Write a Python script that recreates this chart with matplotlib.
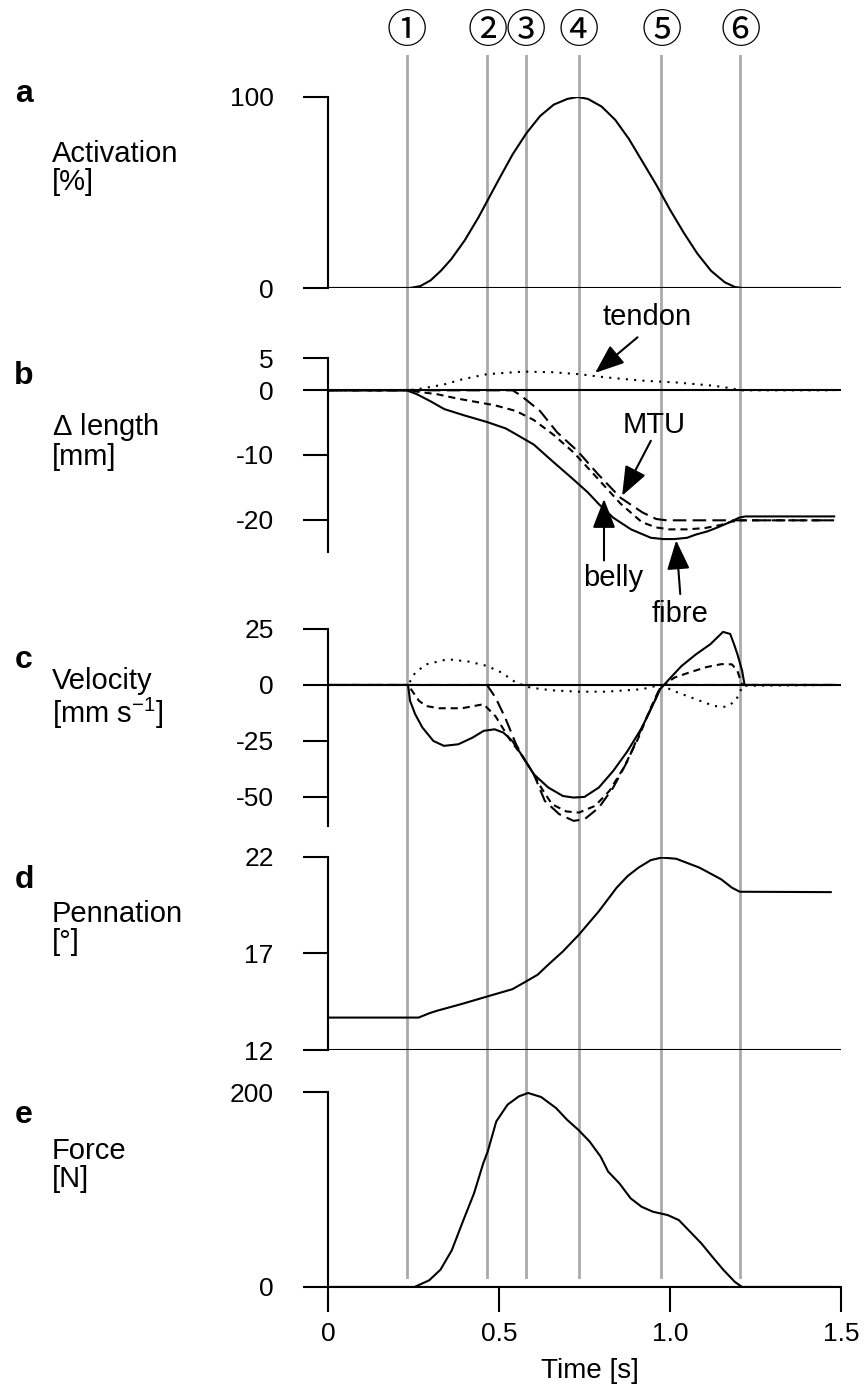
import numpy as np
import matplotlib
matplotlib.use("Agg")
import matplotlib.pyplot as plt
from matplotlib.transforms import blended_transform_factory

plt.rcParams['font.family'] = ['Liberation Sans', 'DejaVu Sans']
plt.rcParams['mathtext.default'] = 'regular'

# event times (s) marked with circled numbers
events = [0.231, 0.466, 0.579, 0.733, 0.975, 1.206]
event_labels = ['①', '②', '③', '④', '⑤', '⑥']

# a: activation [%]
t_act = [0, 0.24, 0.27, 0.30, 0.33, 0.36, 0.40, 0.44, 0.47, 0.50, 0.54, 0.58, 0.62, 0.66,
         0.70, 0.73, 0.76, 0.80, 0.84, 0.88, 0.92, 0.96, 1.00, 1.04, 1.08, 1.12, 1.16, 1.19,
         1.21, 1.48]
act = [0, 0, 1, 4, 9, 15, 25, 37, 47, 57, 70, 81, 90, 96, 99, 100, 99, 95, 88, 78, 66, 54,
       41, 29, 18, 9, 3, 0.5, 0, 0]

# b: length change [mm]
t_fib = [0, 0.23, 0.26, 0.30, 0.34, 0.40, 0.465, 0.52, 0.55, 0.602, 0.655, 0.718, 0.76, 0.792,
         0.834, 0.886, 0.944, 0.98, 1.013, 1.05, 1.076, 1.11, 1.139, 1.17, 1.202, 1.22, 1.48]
len_fib = [0, 0, -0.6, -1.7, -2.9, -3.9, -4.9, -5.9, -6.8, -8.4, -10.9, -13.8, -15.8, -17.6,
           -19.7, -21.5, -22.8, -23.0, -23.0, -22.8, -22.3, -21.8, -21.2, -20.5, -19.7, -19.5, -19.5]
t_bel = [0, 0.23, 0.26, 0.319, 0.381, 0.487, 0.55, 0.602, 0.66, 0.718, 0.781, 0.855, 0.918,
         0.96, 0.997, 1.05, 1.102, 1.15, 1.181, 1.21, 1.48]
len_bel = [0, 0, -0.2, -0.6, -1.3, -2.3, -3.2, -4.6, -6.9, -9.6, -13.2, -17.5, -20.4, -21.2,
           -21.5, -21.5, -21.3, -20.8, -20.3, -20.1, -20.1]
t_mtu = [0, 0.54, 0.555, 0.578, 0.62, 0.67, 0.73, 0.79, 0.855, 0.92, 0.96, 0.99, 1.48]
len_mtu = [0, 0, -0.5, -1.4, -3.2, -6.5, -9.4, -13.0, -16.6, -18.9, -19.9, -20.1, -20.1]
t_ten = [0, 0.23, 0.265, 0.339, 0.392, 0.465, 0.571, 0.655, 0.734, 0.813, 0.918, 1.023,
         1.129, 1.181, 1.205, 1.48]
len_ten = [0, 0, 0.2, 0.9, 1.7, 2.5, 2.9, 2.8, 2.5, 2.0, 1.5, 1.2, 0.7, 0.3, 0, 0]

# c: velocity [mm/s]
t_vfib = [0, 0.234, 0.240, 0.255, 0.276, 0.308, 0.339, 0.381, 0.423, 0.455, 0.487, 0.513,
          0.539, 0.571, 0.602, 0.644, 0.687, 0.718, 0.750, 0.792, 0.834, 0.876, 0.918, 0.960,
          0.971, 1.002, 1.034, 1.076, 1.118, 1.155, 1.176, 1.187, 1.197, 1.211, 1.218, 1.48]
vel_fib = [0, 0, -7.1, -13.1, -19.0, -25.0, -27.2, -26.5, -23.5, -20.5, -19.8, -21.3, -25.0,
           -32.4, -39.9, -45.8, -49.6, -50.3, -50.0, -45.8, -38.4, -29.5, -19.0, -5.7, -1.9,
           3.3, 8.5, 13.7, 18.2, 23.7, 22.8, 18.3, 13.8, 6.3, 0, 0]
t_vbel = [0, 0.234, 0.266, 0.287, 0.324, 0.392, 0.455, 0.49, 0.53, 0.571, 0.602, 0.623,
          0.655, 0.697, 0.734, 0.781, 0.823, 0.865, 0.908, 0.944, 0.971, 1.013, 1.055, 1.107,
          1.150, 1.181, 1.197, 1.211, 1.48]
vel_bel = [0, 0, -7.1, -9.4, -10.4, -10.4, -8.6, -14, -24, -32.4, -40, -45.8, -53.3, -56.5,
           -57, -54, -47.3, -36.9, -23.5, -10.1, -1.2, 3.3, 5.5, 8.0, 9.3, 9.2, 6.3, 0, 0]
t_vmtu = [0, 0.465, 0.49, 0.518, 0.55, 0.571, 0.602, 0.634, 0.676, 0.718, 0.75, 0.792, 0.834,
          0.876, 0.918, 0.955, 0.975, 1.48]
vel_mtu = [0, 0, -5.7, -14.6, -26.5, -32.5, -40, -51.8, -57.7, -60.7, -60, -54.8, -45.8,
           -33.9, -19, -7.1, 0, 0]
t_vten = [0, 0.234, 0.255, 0.287, 0.350, 0.413, 0.465, 0.508, 0.550, 0.592, 0.655, 0.734,
          0.813, 0.918, 0.971, 1.023, 1.076, 1.129, 1.165, 1.192, 1.213, 1.48]
vel_ten = [0, 0, 5.5, 9.2, 11.5, 10.4, 8.5, 5.5, 1.0, -1.2, -2.4, -3.0, -3.0, -1.9, 0, -3.4,
           -6.4, -9.4, -9.8, -7.1, -0.4, 0]

# d: pennation angle [deg]
t_pen = [0, 0.265, 0.297, 0.318, 0.392, 0.465, 0.539, 0.571, 0.613, 0.644, 0.687, 0.734,
         0.792, 0.844, 0.876, 0.908, 0.944, 0.976, 1.018, 1.086, 1.150, 1.181, 1.204, 1.47]
pen = [13.68, 13.68, 13.91, 14.03, 14.39, 14.77, 15.15, 15.47, 15.90, 16.42, 17.11, 17.98,
       19.19, 20.41, 21.01, 21.45, 21.84, 21.97, 21.91, 21.45, 20.84, 20.41, 20.20, 20.18]

# e: force [N]
t_frc = [0, 0.253, 0.296, 0.329, 0.362, 0.394, 0.427, 0.454, 0.467, 0.492, 0.525, 0.558,
         0.585, 0.623, 0.667, 0.699, 0.732, 0.765, 0.797, 0.819, 0.852, 0.885, 0.917, 0.950,
         0.993, 1.026, 1.059, 1.092, 1.124, 1.157, 1.190, 1.211, 1.473]
frc = [0, 0, 6.9, 17.8, 37.7, 66.9, 96.1, 126.9, 138.9, 169.8, 187.0, 195.5, 199.0, 194.9,
       183.5, 171.5, 161.2, 149.2, 133.8, 118.4, 106.3, 90.9, 82.3, 77.2, 73.8, 68.6, 56.6,
       44.6, 30.9, 17.2, 5.1, 0, 0]

W, H = 868, 1389
X0, X1 = 328, 841
LW = 1.5
FS = 21
TICK_FS = 19
long_dash = (0, (6.5, 3))
short_dash = (0, (3.4, 2.4))
dotted = (0, (1, 3))

fig = plt.figure(figsize=(W / 100, H / 100), dpi=100)


def panel(top, bottom, ylim, ticks, base):
    ax = fig.add_axes([X0 / W, 1 - bottom / H, (X1 - X0) / W, (bottom - top) / H])
    ax.patch.set_visible(False)
    ax.set_xlim(0, 1.5)
    ax.set_ylim(*ylim)
    for s in ['top', 'right', 'bottom']:
        ax.spines[s].set_visible(False)
    ax.spines['left'].set_linewidth(LW)
    ax.set_yticks(ticks)
    ax.set_yticklabels([str(v) for v in ticks])
    ax.tick_params(axis='y', direction='out', length=18, width=LW, labelsize=TICK_FS, pad=21)
    ax.set_xticks([])
    ax.axhline(base, color='black', lw=LW, zorder=1)
    return ax


# grey event lines behind all panels
ax_ev = fig.add_axes([X0 / W, 1 - 1279 / H, (X1 - X0) / W, (1279 - 55) / H], zorder=0)
ax_ev.set_xlim(0, 1.5)
ax_ev.axis('off')
trans = blended_transform_factory(ax_ev.transData, fig.transFigure)
for t, lab in zip(events, event_labels):
    ax_ev.axvline(t, color='#aaaaaa', lw=2)
    ax_ev.text(t, 1 - 31 / H, lab, transform=trans, ha='center', va='center', fontsize=29,
               family=['Noto Sans CJK JP', 'DejaVu Sans'])

ax_a = panel(97, 288, (0, 100), [0, 100], 0)
ax_a.plot(t_act, act, color='black', lw=LW)

ax_b = panel(358, 552, (-25, 5), [5, 0, -10, -20], 0)
ax_b.plot(t_ten, len_ten, color='black', lw=LW, ls=dotted)
ax_b.plot(t_mtu, len_mtu, color='black', lw=LW, ls=long_dash)
ax_b.plot(t_bel, len_bel, color='black', lw=LW, ls=short_dash)
ax_b.plot(t_fib, len_fib, color='black', lw=LW)

arrow = dict(arrowstyle='-|>,head_length=0.9,head_width=0.35', mutation_scale=20,
             color='black', lw=LW, shrinkA=0, shrinkB=0)
notes = [('tendon', (0.933, 11.3), (0.905, 8.2), (0.781, 2.7)),
         ('MTU', (0.955, -5.3), (0.944, -7.8), (0.860, -16.3)),
         ('belly', (0.834, -29.0), (0.807, -26.3), (0.807, -16.8)),
         ('fibre', (1.03, -34.6), (1.03, -31.5), (1.018, -23.2))]
for name, txt, tail, tip in notes:
    ax_b.text(txt[0], txt[1], name, ha='center', va='center', fontsize=FS, clip_on=False)
    ax_b.annotate('', xy=tip, xytext=tail, arrowprops=arrow, annotation_clip=False)

ax_c = panel(629, 826, (-63, 25), [25, 0, -25, -50], 0)
ax_c.plot(t_vten, vel_ten, color='black', lw=LW, ls=dotted)
ax_c.plot(t_vmtu, vel_mtu, color='black', lw=LW, ls=long_dash)
ax_c.plot(t_vbel, vel_bel, color='black', lw=LW, ls=short_dash)
ax_c.plot(t_vfib, vel_fib, color='black', lw=LW)

ax_d = panel(857, 1050, (12, 22), [22, 17, 12], 12)
ax_d.plot(t_pen, pen, color='black', lw=LW)

ax_e = panel(1092, 1287, (0, 200), [200, 0], 0)
ax_e.plot(t_frc, frc, color='black', lw=LW)
ax_e.spines['bottom'].set_visible(True)
ax_e.spines['bottom'].set_linewidth(LW)
ax_e.set_xticks([0, 0.5, 1.0, 1.5])
ax_e.set_xticklabels(['0', '0.5', '1.0', '1.5'])
ax_e.tick_params(axis='x', direction='out', length=18, width=LW, labelsize=TICK_FS, pad=7)

# panel letters and axis titles
titles = [('a', 94, 'Activation\n[%]', 168),
          ('b', 376, '$\\Delta$ length\n[mm]', 441),
          ('c', 660, 'Velocity\n[mm s$^{-1}$]', 699),
          ('d', 880, 'Pennation\n[°]', 928),
          ('e', 1115, 'Force\n[N]', 1165)]
for letter, ly, title, ty in titles:
    fig.text(24 / W, 1 - ly / H, letter, ha='center', va='center', fontsize=23,
             fontweight='bold')
    fig.text(52 / W, 1 - ty / H, title, ha='left', va='center', fontsize=FS,
             linespacing=1.0)

fig.text(590 / W, 1 - 1371 / H, 'Time [s]', ha='center', va='center', fontsize=20)

fig.savefig('out.png', dpi=100)
